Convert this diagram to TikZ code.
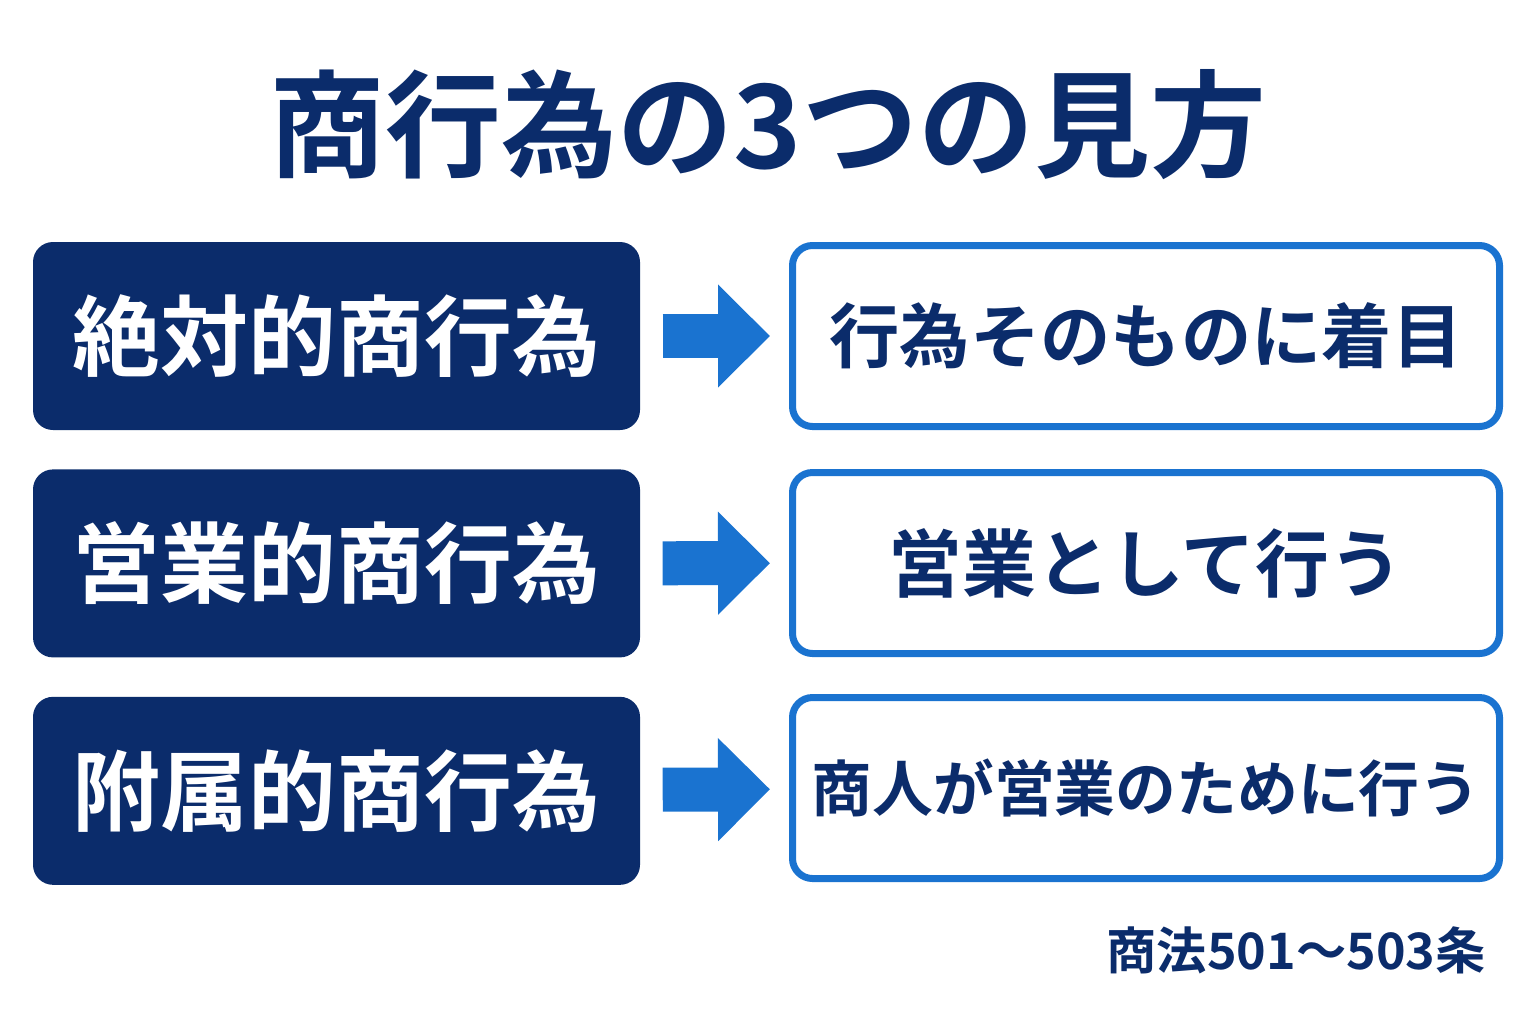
\documentclass[tikz,border=0pt]{standalone}
\usepackage{fontspec}
\newfontfamily\cjk{Noto Sans CJK JP}[BoldFont={* Bold}]
\usetikzlibrary{positioning,arrows.meta}
\definecolor{navy}{HTML}{0B2C6B}
\definecolor{brightblue}{HTML}{1A73D0}
\begin{document}
\begin{tikzpicture}
    [
    kind/.style={rectangle,rounded corners=0.2cm,fill=navy,text=white,
      minimum width=6.07cm,minimum height=1.88cm,font=\cjk\bfseries\fontsize{25}{30}\selectfont},
    focus/.style={rectangle,rounded corners=0.2cm,draw=brightblue,line width=0.07cm,fill=white,
      text=navy,minimum width=7.07cm,minimum height=1.81cm},
    leadto/.style={brightblue,line width=0.44cm,-{Triangle[length=0.52cm,width=1.0cm]},
      shorten <=0.22cm,shorten >=0.19cm},
    ]
    \useasboundingbox (0,0) rectangle (15.36,-10.24);
    \node (title) at (7.68,-1.25) [text=navy,font=\cjk\bfseries\fontsize{33}{40}\selectfont] {商行為の3つの見方};

    \node (k1) at (3.365,-3.36) [kind] {絶対的商行為};
    \node (k2) [kind, below=0.38cm of k1] {営業的商行為};
    \node (k3) [kind, below=0.38cm of k2] {附属的商行為};

    \node (f1) at (11.46,-3.36) [focus, font=\cjk\bfseries\fontsize{20}{24}\selectfont] {行為そのものに着目};
    \node (f2) at (11.46,-5.63) [focus, font=\cjk\bfseries\fontsize{21}{25}\selectfont] {営業として行う};
    \node (f3) at (11.46,-7.88) [focus, font=\cjk\bfseries\fontsize{17.3}{21}\selectfont] {商人が営業のために行う};

    \draw [leadto] (k1) to (f1);
    \draw [leadto] (k2) to (f2);
    \draw [leadto] (k3) to (f3);

    \node (law) [anchor=east, text=navy, font=\cjk\bfseries\fontsize{14.3}{17}\selectfont] at (14.98,-9.5) {商法501〜503条};
\end{tikzpicture}
\end{document}
